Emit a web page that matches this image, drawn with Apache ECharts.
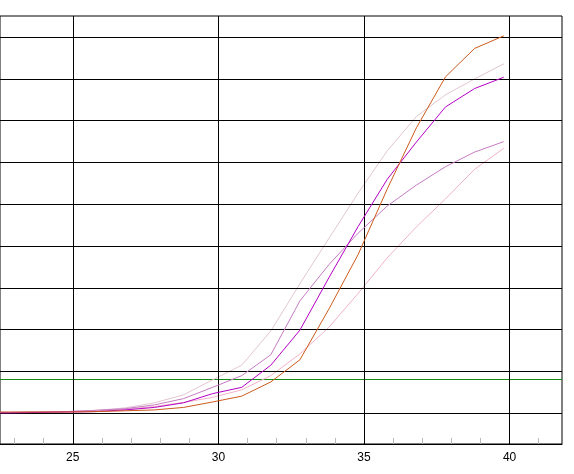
<!DOCTYPE html>
<html>
<head>
<meta charset="utf-8">
<script src="https://cdn.jsdelivr.net/npm/echarts@6/dist/echarts.min.js"></script>
<style>
html,body{margin:0;padding:0;background:#fff;}
#c{width:574px;height:474px;}
</style>
</head>
<body>
<div id="c"></div>
<script>
// Cycle positions of the readings
const cycles = [21.8,22.8,23.8,24.8,25.8,26.8,27.8,28.8,29.8,30.8,31.8,32.8,33.8,34.8,35.8,36.8,37.8,38.8,39.8];
// Fluorescence curves
const orangeVals  = [0.03,0.03,0.03,0.03,0.04,0.06,0.08,0.14,0.27,0.41,0.75,1.28,2.5,3.8,5.37,6.83,8.05,8.73,9.03];
const magentaVals = [0.01,0.01,0.02,0.03,0.04,0.08,0.14,0.25,0.47,0.62,1.15,1.99,3.25,4.47,5.6,6.49,7.33,7.77,8.04];
const greyVals    = [0.02,0.02,0.03,0.04,0.07,0.13,0.25,0.44,0.8,1.15,1.97,3.1,4.19,5.27,6.28,7.1,7.62,8.0,8.36];
const mauveVals   = [0.02,0.02,0.03,0.04,0.07,0.11,0.2,0.35,0.62,0.9,1.4,2.69,3.56,4.31,4.96,5.46,5.9,6.25,6.5];
const pinkVals    = [0.02,0.02,0.03,0.04,0.07,0.1,0.16,0.26,0.38,0.56,0.9,1.42,2.06,2.87,3.72,4.46,5.13,5.84,6.34];
// Axis ticks
const xTickValues  = [23,24,25,26,27,28,29,30,31,32,33,34,35,36,37,38,39,40,41];
const xLabelValues = [25,30,35,40];
const yGridValues  = [0,1,2,3,4,5,6,7,8,9];
const threshold    = 0.808;
const xMin = 22.5, xMax = 41.8;

const pairs = v => cycles.map((c, i) => [c, v[i]]);

const chart = echarts.init(document.getElementById('c'), null, {renderer: 'canvas'});

const gridLines = [];
xLabelValues.forEach(v => gridLines.push({xAxis: v}));
yGridValues.forEach(v => gridLines.push({yAxis: v}));

function curve(name, vals, color, z) {
  return {
    name: name, type: 'line', data: pairs(vals), showSymbol: false, symbol: 'none',
    lineStyle: {color: color, width: 1}, itemStyle: {color: color},
    z: z, animation: false, smooth: false
  };
}

chart.setOption({
  animation: false,
  backgroundColor: '#fff',
  grid: {left: -2, right: 12, top: 16, bottom: 30, show: true, borderColor: '#000', borderWidth: 1, backgroundColor: 'transparent'},
  xAxis: {
    type: 'value', min: xMin, max: xMax,
    axisLine: {show: true, onZero: false, lineStyle: {color: '#000', width: 1}},
    axisTick: {show: true, inside: true, length: 6, customValues: xTickValues, lineStyle: {color: '#b8b8b8', width: 1}},
    axisLabel: {show: true, customValues: xLabelValues, color: '#000', fontSize: 12, fontFamily: 'Liberation Sans, Arial, sans-serif', margin: 8},
    splitLine: {show: false}
  },
  yAxis: {
    type: 'value', min: -0.735, max: 9.505,
    axisLine: {show: false}, axisTick: {show: false}, axisLabel: {show: false}, splitLine: {show: false}
  },
  series: [
    {
      type: 'line', data: [], silent: true, z: 1,
      markLine: {
        silent: true, symbol: ['none', 'none'], animation: false,
        label: {show: false},
        lineStyle: {color: '#000', width: 1, type: 'solid'},
        emphasis: {disabled: true},
        data: gridLines
      }
    },
    {
      name: 'threshold', type: 'line', silent: true, z: 2, showSymbol: false, symbol: 'none',
      data: [[xMin, threshold], [xMax, threshold]],
      lineStyle: {color: '#138a13', width: 1}, itemStyle: {color: '#138a13'}
    },
    curve('grey', greyVals, '#e2c6d2', 3),
    curve('pink', pinkVals, '#f2b2c8', 4),
    curve('mauve', mauveVals, '#c47cc2', 5),
    curve('magenta', magentaVals, '#b400c4', 6),
    curve('orange', orangeVals, '#cc5a1c', 7)
  ]
});
</script>
</body>
</html>
